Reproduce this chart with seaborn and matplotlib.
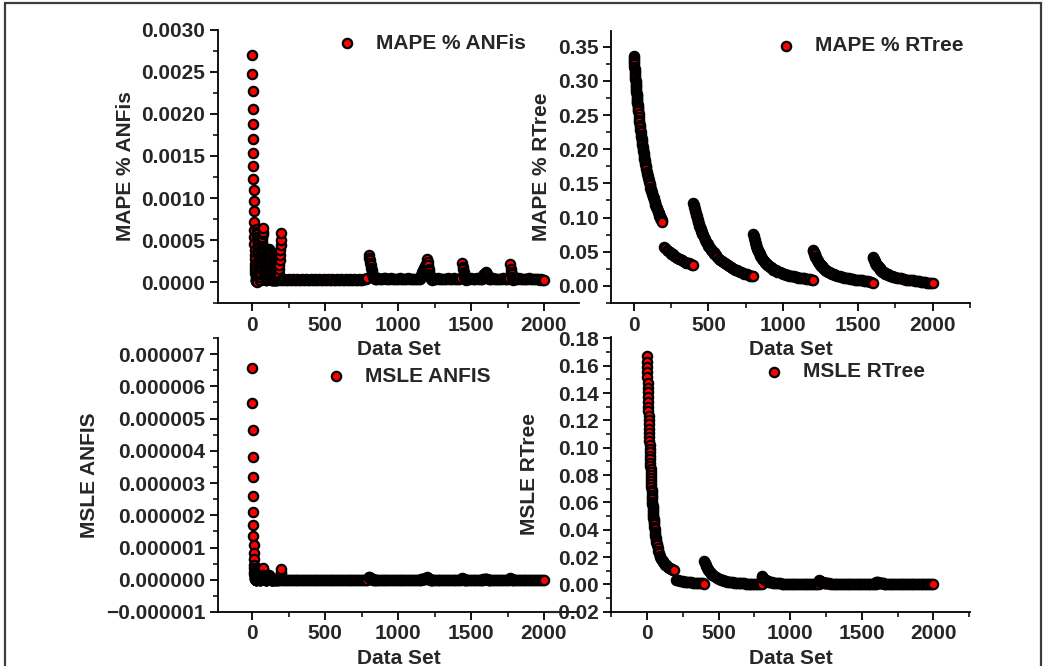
import numpy as np
import matplotlib
matplotlib.use('Agg')
import matplotlib.pyplot as plt
import matplotlib.ticker as mticker
from matplotlib.patches import Rectangle
import seaborn as sns

sns.set_style('ticks')
plt.rcParams['font.family'] = ['Liberation Sans', 'DejaVu Sans']
plt.rcParams['font.weight'] = 'bold'
plt.rcParams['axes.labelweight'] = 'bold'

#%% data

# ANFIS results (same data set index for both error measures)
anfis_x = np.r_[0:31, 32:137, 138:179:4, 180:199:2, 200:791:10, 800:831:3,
                835:846:5, 850:1141:10, 1150:1197:4, 1200:1234:3, 1240:1431:10,
                1440:1467:3, 1470:1571:10, 1575:1626:5, 1630:1761:10,
                1770:1791:3, 1800:2001:10]

mape_anfis = [
    # 0..30
    0.00270, 0.00247, 0.00227, 0.00206, 0.00188, 0.00170, 0.00153, 0.00138, 0.00123, 0.00109,
    0.00096, 0.00084, 0.00072, 0.00062, 0.00053, 0.00045, 0.00038, 0.00032, 0.00027, 0.00022,
    0.00018, 0.00014, 0.00011, 0.00008, 0.00006, 0.00004, 0.00003, 0.00002, 0.00001, 0.00001,
    0.00000,
    # 32..136
    0.00063, 0.00060, 0.00057, 0.00054, 0.00051, 0.00048, 0.00045, 0.00042, 0.00039, 0.00036,
    0.00033, 0.00030, 0.00027, 0.00024, 0.00021, 0.00018, 0.00015, 0.00012, 0.00009, 0.00006,
    0.00003,
    0.00003, 0.00006, 0.00009, 0.00012, 0.00015, 0.00018, 0.00021, 0.00024, 0.00027, 0.00030,
    0.00033, 0.00036, 0.00039, 0.00042, 0.00045, 0.00048, 0.00051, 0.00054, 0.00057, 0.00060,
    0.00064,
    0.00040, 0.00038, 0.00036, 0.00034, 0.00032, 0.00030, 0.00028, 0.00026, 0.00024, 0.00022,
    0.00020, 0.00018, 0.00016, 0.00014, 0.00012, 0.00010, 0.00008, 0.00006, 0.00004, 0.00003,
    0.00002,
    0.00002, 0.00004, 0.00006, 0.00008, 0.00010, 0.00012, 0.00014, 0.00016, 0.00018, 0.00020,
    0.00022, 0.00024, 0.00026, 0.00028, 0.00030, 0.00032, 0.00034, 0.00036, 0.00037, 0.00038,
    0.00039,
    0.00037, 0.00035, 0.00033, 0.00031, 0.00029, 0.00027, 0.00025, 0.00023, 0.00021, 0.00019,
    0.00017, 0.00015, 0.00013, 0.00011, 0.00009, 0.00007, 0.00005, 0.00004, 0.00003, 0.00002,
    0.00002,
    # 138..178
    0.00002, 0.00003, 0.00002, 0.00002, 0.00003, 0.00002, 0.00002, 0.00003, 0.00002, 0.00003,
    0.00004,
    # 180..198
    0.00005, 0.00010, 0.00015, 0.00020, 0.00026, 0.00032, 0.00038, 0.00044, 0.00050, 0.00058,
    # 200..790
    0.00003, 0.00003, 0.00004, 0.00003, 0.00003, 0.00004, 0.00003, 0.00003, 0.00004, 0.00003,
    0.00003, 0.00004, 0.00003, 0.00003, 0.00004, 0.00003, 0.00003, 0.00004, 0.00003, 0.00003,
    0.00004, 0.00003, 0.00003, 0.00004, 0.00003, 0.00003, 0.00004, 0.00003, 0.00003, 0.00004,
    0.00003, 0.00003, 0.00004, 0.00003, 0.00003, 0.00004, 0.00003, 0.00003, 0.00004, 0.00003,
    0.00003, 0.00004, 0.00003, 0.00003, 0.00004, 0.00003, 0.00003, 0.00004, 0.00003, 0.00003,
    0.00004, 0.00003, 0.00003, 0.00004, 0.00003, 0.00003, 0.00004, 0.00004, 0.00004, 0.00005,
    # 800..845
    0.00032, 0.00029, 0.00026, 0.00023, 0.00020, 0.00017, 0.00014, 0.00012, 0.00010, 0.00008,
    0.00006, 0.00005, 0.00004, 0.00004,
    # 850..1140
    0.00004, 0.00005, 0.00004, 0.00004, 0.00004, 0.00005, 0.00005, 0.00004, 0.00004, 0.00004,
    0.00005, 0.00004, 0.00004, 0.00004, 0.00004, 0.00004, 0.00005, 0.00004, 0.00004, 0.00004,
    0.00004, 0.00004, 0.00005, 0.00004, 0.00004, 0.00004, 0.00004, 0.00004, 0.00004, 0.00004,
    # 1150..1233
    0.00004, 0.00006, 0.00008, 0.00010, 0.00012, 0.00014, 0.00015, 0.00017, 0.00018, 0.00019,
    0.00020, 0.00021,
    0.00028, 0.00024, 0.00020, 0.00016, 0.00013, 0.00010, 0.00008, 0.00006, 0.00005, 0.00004,
    0.00004, 0.00003,
    # 1240..1430
    0.00004, 0.00004, 0.00004, 0.00005, 0.00004, 0.00004, 0.00004, 0.00004, 0.00004, 0.00004,
    0.00005, 0.00004, 0.00004, 0.00004, 0.00005, 0.00004, 0.00004, 0.00004, 0.00004, 0.00005,
    # 1440..1464
    0.00023, 0.00018, 0.00015, 0.00012, 0.00009, 0.00007, 0.00005, 0.00004, 0.00003,
    # 1470..1570
    0.00004, 0.00004, 0.00004, 0.00005, 0.00004, 0.00004, 0.00004, 0.00005, 0.00004, 0.00004,
    0.00004,
    # 1575..1625
    0.00004, 0.00006, 0.00008, 0.00010, 0.00011, 0.00012, 0.00011, 0.00009, 0.00007, 0.00005,
    0.00004,
    # 1630..1760
    0.00004, 0.00004, 0.00005, 0.00004, 0.00004, 0.00004, 0.00004, 0.00004, 0.00004, 0.00005,
    0.00004, 0.00004, 0.00004, 0.00005,
    # 1770..1788
    0.00021, 0.00016, 0.00012, 0.00009, 0.00006, 0.00004, 0.00003,
    # 1800..2000
    0.00004, 0.00004, 0.00004, 0.00005, 0.00004, 0.00004, 0.00004, 0.00004, 0.00004, 0.00004,
    0.00005, 0.00004, 0.00004, 0.00004, 0.00004, 0.00004, 0.00004, 0.00003, 0.00004, 0.00003,
    0.00003,
]

msle_anfis = [
    # 0..30
    6.56e-6, 5.49e-6, 4.64e-6, 3.82e-6, 3.18e-6, 2.60e-6, 2.11e-6, 1.71e-6, 1.36e-6, 1.07e-6,
    0.83e-6, 0.64e-6, 0.47e-6, 0.35e-6, 0.25e-6, 0.18e-6, 0.13e-6, 0.09e-6, 0.07e-6, 0.04e-6,
    0.03e-6, 0.02e-6, 0.01e-6, 0.01e-6, 0.0, 0.0, 0.0, 0.0, 0.0, 0.0,
    0.0,
    # 32..136
    0.357e-6, 0.324e-6, 0.292e-6, 0.262e-6, 0.234e-6, 0.207e-6, 0.182e-6, 0.159e-6, 0.137e-6, 0.117e-6,
    0.098e-6, 0.081e-6, 0.066e-6, 0.052e-6, 0.040e-6, 0.029e-6, 0.020e-6, 0.013e-6, 0.007e-6, 0.003e-6,
    0.001e-6,
    0.001e-6, 0.003e-6, 0.007e-6, 0.013e-6, 0.020e-6, 0.029e-6, 0.040e-6, 0.052e-6, 0.066e-6, 0.081e-6,
    0.098e-6, 0.117e-6, 0.137e-6, 0.159e-6, 0.182e-6, 0.207e-6, 0.234e-6, 0.262e-6, 0.292e-6, 0.324e-6,
    0.369e-6,
    0.144e-6, 0.130e-6, 0.117e-6, 0.104e-6, 0.092e-6, 0.081e-6, 0.071e-6, 0.061e-6, 0.052e-6, 0.044e-6,
    0.036e-6, 0.029e-6, 0.023e-6, 0.018e-6, 0.013e-6, 0.009e-6, 0.006e-6, 0.003e-6, 0.001e-6, 0.001e-6,
    0.0,
    0.0, 0.001e-6, 0.003e-6, 0.006e-6, 0.009e-6, 0.013e-6, 0.018e-6, 0.023e-6, 0.029e-6, 0.036e-6,
    0.044e-6, 0.052e-6, 0.061e-6, 0.071e-6, 0.081e-6, 0.092e-6, 0.104e-6, 0.117e-6, 0.123e-6, 0.130e-6,
    0.137e-6,
    0.123e-6, 0.110e-6, 0.098e-6, 0.086e-6, 0.076e-6, 0.066e-6, 0.056e-6, 0.048e-6, 0.040e-6, 0.032e-6,
    0.026e-6, 0.020e-6, 0.015e-6, 0.011e-6, 0.007e-6, 0.004e-6, 0.002e-6, 0.001e-6, 0.001e-6, 0.0,
    0.0,
    # 138..178
    0.0, 0.0, 0.0, 0.0, 0.0, 0.0, 0.0, 0.0, 0.0, 0.0,
    0.0,
    # 180..198
    0.0, 0.01e-6, 0.02e-6, 0.04e-6, 0.06e-6, 0.09e-6, 0.13e-6, 0.17e-6, 0.23e-6, 0.32e-6,
    # 200..790
    0.0, 0.0, 0.0, 0.0, 0.0, 0.0, 0.0, 0.0, 0.0, 0.0,
    0.0, 0.0, 0.0, 0.0, 0.0, 0.0, 0.0, 0.0, 0.0, 0.0,
    0.0, 0.0, 0.0, 0.0, 0.0, 0.0, 0.0, 0.0, 0.0, 0.0,
    0.0, 0.0, 0.0, 0.0, 0.0, 0.0, 0.0, 0.0, 0.0, 0.0,
    0.0, 0.0, 0.0, 0.0, 0.0, 0.0, 0.0, 0.0, 0.0, 0.0,
    0.0, 0.0, 0.0, 0.0, 0.0, 0.0, 0.0, 0.0, 0.0, 0.0,
    # 800..845
    0.09e-6, 0.08e-6, 0.06e-6, 0.05e-6, 0.04e-6, 0.03e-6, 0.02e-6, 0.01e-6, 0.01e-6, 0.01e-6,
    0.0, 0.0, 0.0, 0.0,
    # 850..1140
    0.0, 0.0, 0.0, 0.0, 0.0, 0.0, 0.0, 0.0, 0.0, 0.0,
    0.0, 0.0, 0.0, 0.0, 0.0, 0.0, 0.0, 0.0, 0.0, 0.0,
    0.0, 0.0, 0.0, 0.0, 0.0, 0.0, 0.0, 0.0, 0.0, 0.0,
    # 1150..1233
    0.0, 0.0, 0.01e-6, 0.01e-6, 0.01e-6, 0.02e-6, 0.02e-6, 0.03e-6, 0.03e-6, 0.03e-6,
    0.04e-6, 0.04e-6,
    0.07e-6, 0.05e-6, 0.04e-6, 0.02e-6, 0.02e-6, 0.01e-6, 0.01e-6, 0.0, 0.0, 0.0,
    0.0, 0.0,
    # 1240..1430
    0.0, 0.0, 0.0, 0.0, 0.0, 0.0, 0.0, 0.0, 0.0, 0.0,
    0.0, 0.0, 0.0, 0.0, 0.0, 0.0, 0.0, 0.0, 0.0, 0.0,
    # 1440..1464
    0.05e-6, 0.03e-6, 0.02e-6, 0.01e-6, 0.01e-6, 0.0, 0.0, 0.0, 0.0,
    # 1470..1570
    0.0, 0.0, 0.0, 0.0, 0.0, 0.0, 0.0, 0.0, 0.0, 0.0,
    0.0,
    # 1575..1625
    0.0, 0.0, 0.01e-6, 0.01e-6, 0.01e-6, 0.01e-6, 0.01e-6, 0.01e-6, 0.0, 0.0,
    0.0,
    # 1630..1760
    0.0, 0.0, 0.0, 0.0, 0.0, 0.0, 0.0, 0.0, 0.0, 0.0,
    0.0, 0.0, 0.0, 0.0,
    # 1770..1788
    0.04e-6, 0.02e-6, 0.01e-6, 0.01e-6, 0.0, 0.0, 0.0,
    # 1800..2000
    0.0, 0.0, 0.0, 0.0, 0.0, 0.0, 0.0, 0.0, 0.0, 0.0,
    0.0, 0.0, 0.0, 0.0, 0.0, 0.0, 0.0, 0.0, 0.0, 0.0,
    0.0,
]

# RTree results: six decaying runs (0-190, 200-400, 400-800, 800-1200, 1200-1600, 1600-2000)
short_run_x = np.arange(200, 401, 10)
fine_d = np.r_[0:61:3, 65:151:5, 160:401:10]
coarse_d = np.r_[0:61:5, 70:401:10]

rtree_mape_x = np.concatenate([np.r_[0:31, 32:81:2, 82:191:3], short_run_x,
                               400 + fine_d, 800 + fine_d, 1200 + fine_d, 1600 + fine_d])

mape_rtree = [
    # 0..190
    0.337, 0.334, 0.330, 0.327, 0.324, 0.321, 0.318, 0.315, 0.312, 0.309,
    0.306, 0.303, 0.300, 0.297, 0.294, 0.292, 0.289, 0.286, 0.284, 0.281,
    0.279, 0.276, 0.274, 0.272, 0.269, 0.267, 0.265, 0.262, 0.260, 0.258,
    0.256,
    0.252, 0.247, 0.243, 0.240, 0.236, 0.232, 0.228, 0.225, 0.221, 0.218,
    0.215, 0.212, 0.209, 0.206, 0.203, 0.200, 0.197, 0.194, 0.191, 0.189,
    0.186, 0.184, 0.181, 0.179, 0.176,
    0.174, 0.171, 0.167, 0.164, 0.161, 0.158, 0.155, 0.152, 0.149, 0.147,
    0.144, 0.142, 0.139, 0.137, 0.134, 0.132, 0.130, 0.128, 0.125, 0.123,
    0.121, 0.119, 0.117, 0.115, 0.114, 0.112, 0.110, 0.108, 0.107, 0.105,
    0.103, 0.102, 0.100, 0.099, 0.097, 0.096, 0.094,
    # 200..400
    0.057, 0.055, 0.053, 0.051, 0.049, 0.047, 0.046, 0.044, 0.043, 0.041,
    0.040, 0.039, 0.038, 0.037, 0.035, 0.034, 0.033, 0.033, 0.032, 0.031,
    0.030,
    # 400..800
    0.122, 0.119, 0.116, 0.113, 0.110, 0.107, 0.104, 0.102, 0.099, 0.097,
    0.095, 0.093, 0.090, 0.088, 0.086, 0.085, 0.083, 0.081, 0.079, 0.078,
    0.076,
    0.074, 0.071, 0.069, 0.067, 0.065, 0.063, 0.061, 0.059, 0.057, 0.056,
    0.054, 0.053, 0.051, 0.050, 0.049, 0.047, 0.046, 0.045,
    0.043, 0.040, 0.038, 0.037, 0.035, 0.033, 0.032, 0.030, 0.029, 0.028,
    0.026, 0.025, 0.024, 0.023, 0.022, 0.021, 0.020, 0.019, 0.018, 0.018,
    0.017, 0.016, 0.015, 0.015, 0.014,
    # 800..1200
    0.076, 0.073, 0.070, 0.067, 0.065, 0.062, 0.060, 0.058, 0.056, 0.054,
    0.053, 0.051, 0.050, 0.048, 0.047, 0.046, 0.044, 0.043, 0.042, 0.041,
    0.040,
    0.038, 0.037, 0.036, 0.034, 0.033, 0.032, 0.031, 0.030, 0.029, 0.028,
    0.027, 0.027, 0.026, 0.025, 0.024, 0.024, 0.023, 0.023,
    0.021, 0.020, 0.020, 0.019, 0.018, 0.017, 0.016, 0.016, 0.015, 0.015,
    0.014, 0.014, 0.013, 0.013, 0.012, 0.012, 0.011, 0.011, 0.011, 0.010,
    0.010, 0.010, 0.010, 0.009, 0.009,
    # 1200..1600
    0.053, 0.051, 0.049, 0.047, 0.046, 0.043, 0.042, 0.041, 0.039, 0.038,
    0.037, 0.036, 0.035, 0.034, 0.033, 0.032, 0.031, 0.030, 0.029, 0.029,
    0.028,
    0.027, 0.026, 0.025, 0.024, 0.023, 0.022, 0.022, 0.021, 0.020, 0.020,
    0.019, 0.019, 0.018, 0.018, 0.017, 0.017, 0.016, 0.016,
    0.015, 0.014, 0.014, 0.013, 0.013, 0.012, 0.011, 0.011, 0.011, 0.010,
    0.010, 0.010, 0.009, 0.009, 0.008, 0.008, 0.008, 0.008, 0.007, 0.007,
    0.007, 0.007, 0.006, 0.006, 0.005,
    # 1600..2000
    0.043, 0.041, 0.039, 0.038, 0.036, 0.035, 0.034, 0.032, 0.031, 0.030,
    0.030, 0.029, 0.028, 0.027, 0.026, 0.026, 0.025, 0.024, 0.024, 0.023,
    0.022,
    0.021, 0.021, 0.020, 0.019, 0.018, 0.018, 0.017, 0.017, 0.016, 0.016,
    0.015, 0.015, 0.015, 0.014, 0.013, 0.013, 0.013, 0.013,
    0.012, 0.011, 0.011, 0.011, 0.010, 0.010, 0.009, 0.009, 0.008, 0.008,
    0.008, 0.008, 0.007, 0.007, 0.007, 0.007, 0.006, 0.006, 0.006, 0.006,
    0.005, 0.005, 0.005, 0.004, 0.004,
]

rtree_msle_x = np.concatenate([np.r_[0:51, 52:71:2, 75:191:5], short_run_x,
                               400 + coarse_d, 800 + coarse_d, 1200 + coarse_d, 1600 + coarse_d])

msle_rtree = [
    # 0..190
    0.1670, 0.1630, 0.1591, 0.1552, 0.1514, 0.1477, 0.1440, 0.1404, 0.1369, 0.1334,
    0.1300, 0.1266, 0.1233, 0.1201, 0.1170, 0.1139, 0.1109, 0.1079, 0.1050, 0.1022,
    0.0994, 0.0967, 0.0941, 0.0915, 0.0890, 0.0866, 0.0842, 0.0819, 0.0797, 0.0775,
    0.0754,
    0.0733, 0.0713, 0.0694, 0.0675, 0.0657, 0.0639, 0.0622, 0.0605, 0.0589, 0.0573,
    0.0558, 0.0543, 0.0529, 0.0515, 0.0502, 0.0489, 0.0477, 0.0465, 0.0454, 0.0443,
    0.0422, 0.0403, 0.0385, 0.0368, 0.0352, 0.0337, 0.0323, 0.0310, 0.0298, 0.0287,
    0.0263, 0.0243, 0.0226, 0.0211, 0.0198, 0.0187, 0.0178, 0.0170, 0.0162, 0.0156,
    0.0150, 0.0144, 0.0139, 0.0134, 0.0130, 0.0126, 0.0122, 0.0119, 0.0116, 0.0113,
    0.0110, 0.0108, 0.0106, 0.0104,
    # 200..400
    0.0033, 0.0031, 0.0029, 0.0027, 0.0025, 0.0023, 0.0021, 0.0020, 0.0018, 0.0017,
    0.0016, 0.0014, 0.0013, 0.0012, 0.0011, 0.0010, 0.0009, 0.0008, 0.0008, 0.0007,
    0.0006,
    # 400..800
    0.0171, 0.0157, 0.0144, 0.0132, 0.0122, 0.0110, 0.0104, 0.0095, 0.0089, 0.0083, 0.0077, 0.0072, 0.0066,
    0.0058, 0.0052, 0.0046, 0.0040, 0.0036, 0.0032, 0.0029, 0.0025, 0.0023, 0.0021,
    0.0018, 0.0017, 0.0016, 0.0014, 0.0013, 0.0012, 0.0010, 0.0010, 0.0009, 0.0008,
    0.0007, 0.0007, 0.0006, 0.0006, 0.0005, 0.0005, 0.0004, 0.0004, 0.0004, 0.0003,
    0.0003, 0.0003, 0.0003, 0.0002,
    # 800..1200
    0.0064, 0.0055, 0.0048, 0.0042, 0.0038, 0.0034, 0.0031, 0.0028, 0.0025, 0.0023, 0.0021, 0.0019, 0.0018,
    0.0015, 0.0013, 0.0011, 0.0010, 0.0009, 0.0008, 0.0007, 0.0006, 0.0006, 0.0005,
    0.0004, 0.0004, 0.0004, 0.0004, 0.0003, 0.0003, 0.0003, 0.0002, 0.0002, 0.0002,
    0.0002, 0.0002, 0.0002, 0.0002, 0.0002, 0.0001, 0.0001, 0.0001, 0.0001, 0.0001,
    0.0001, 0.0001, 0.0001, 0.0001,
    # 1200..1600
    0.0031, 0.0027, 0.0023, 0.0020, 0.0018, 0.0017, 0.0015, 0.0013, 0.0013, 0.0011, 0.0011, 0.0009, 0.0009,
    0.0007, 0.0006, 0.0005, 0.0005, 0.0004, 0.0004, 0.0004, 0.0003, 0.0003, 0.0002,
    0.0002, 0.0002, 0.0002, 0.0002, 0.0002, 0.0001, 0.0001, 0.0001, 0.0001, 0.0001,
    0.0001, 0.0001, 0.0001, 0.0001, 0.0001, 0.0001, 0.0001, 0.0001, 0.0000, 0.0000,
    0.0000, 0.0000, 0.0000, 0.0000,
    # 1600..2000
    0.0020, 0.0018, 0.0015, 0.0013, 0.0012, 0.0011, 0.0010, 0.0009, 0.0008, 0.0007, 0.0007, 0.0006, 0.0005,
    0.0005, 0.0004, 0.0004, 0.0003, 0.0003, 0.0002, 0.0002, 0.0002, 0.0002, 0.0002,
    0.0001, 0.0001, 0.0001, 0.0001, 0.0001, 0.0001, 0.0001, 0.0001, 0.0001, 0.0001,
    0.0001, 0.0001, 0.0001, 0.0001, 0.0001, 0.0000, 0.0000, 0.0000, 0.0000, 0.0000,
    0.0000, 0.0000, 0.0000, 0.0000,
]

x_ticks = [0, 500, 1000, 1500, 2000]

for xs, ys in [(anfis_x, mape_anfis), (anfis_x, msle_anfis),
               (rtree_mape_x, mape_rtree), (rtree_msle_x, msle_rtree)]:
    assert len(xs) == len(ys), (len(xs), len(ys))

#%% plotting

def minus_fmt(fmt):
    return mticker.FuncFormatter(lambda v, p: (fmt % v).replace('-', '\u2212'))


def draw_panel(ax, x, y, label, ylabel, xlim, ylim, yticks, fmt, leg_pos):
    sns.scatterplot(x=x, y=y, ax=ax, color='#ff0000', edgecolor='black',
                    linewidth=1.6, s=45, label=label, zorder=3)
    ax.set_xlim(*xlim)
    ax.set_ylim(*ylim)
    ax.set_xticks(x_ticks)
    ax.set_yticks(yticks)
    ax.yaxis.set_major_formatter(minus_fmt(fmt))
    ax.xaxis.set_minor_locator(mticker.AutoMinorLocator(2))
    ax.yaxis.set_minor_locator(mticker.AutoMinorLocator(2))
    ax.tick_params(which='major', direction='out', length=6, width=1.3,
                   labelsize=15, pad=3, color='black')
    ax.tick_params(which='minor', direction='out', length=3.5, width=1.1, color='black')
    for s in ['top', 'right']:
        ax.spines[s].set_visible(False)
    for s in ['left', 'bottom']:
        ax.spines[s].set_linewidth(1.3)
        ax.spines[s].set_color('black')
    ax.set_xlabel('Data Set', fontsize=15, fontweight='bold', labelpad=4)
    ax.set_ylabel(ylabel, fontsize=15, fontweight='bold', labelpad=5)
    ax.legend(loc='center left', bbox_to_anchor=leg_pos, frameon=False,
              borderpad=0, borderaxespad=0, handlelength=1.0, handletextpad=0.9,
              prop={'size': 15, 'weight': 'bold'})
    ax.patch.set_alpha(0)


fig = plt.figure(figsize=(10.47, 6.66), dpi=100)

ax1 = fig.add_axes([0.2082, 0.545, 0.3448, 0.410])
ax2 = fig.add_axes([0.5836, 0.545, 0.3429, 0.4085])
ax3 = fig.add_axes([0.2082, 0.0811, 0.3448, 0.4114])
ax4 = fig.add_axes([0.5836, 0.0815, 0.3429, 0.4125])

draw_panel(ax1, anfis_x, mape_anfis, 'MAPE % ANFis', 'MAPE % ANFis',
           (-235, 2240), (-0.00025, 0.0030), np.arange(0, 0.00301, 0.0005),
           '%.4f', (0.3285, 0.952))
draw_panel(ax2, rtree_mape_x, mape_rtree, 'MAPE % RTree', 'MAPE % RTree',
           (-152, 2251), (-0.025, 0.373), np.arange(0, 0.351, 0.05),
           '%.2f', (0.4585, 0.945))
draw_panel(ax3, anfis_x, msle_anfis, 'MSLE ANFIS', 'MSLE ANFIS',
           (-235, 2240), (-0.000001, 0.0000075), np.arange(-1, 7.1, 1) * 1e-6,
           '%.6f', (0.298, 0.861))
draw_panel(ax4, rtree_msle_x, msle_rtree, 'MSLE RTree', 'MSLE RTree',
           (-250, 2255), (-0.02, 0.181), np.arange(-0.02, 0.181, 0.02),
           '%.2f', (0.425, 0.8726))

# thin frame round the picture
fig.add_artist(Rectangle((5 / 1047, -0.05), (1041 - 5) / 1047, 1 - 3 / 666 + 0.05,
                         transform=fig.transFigure, fill=False,
                         edgecolor='#3c3c3c', linewidth=1.6))

fig.savefig('out.png', dpi=100)
